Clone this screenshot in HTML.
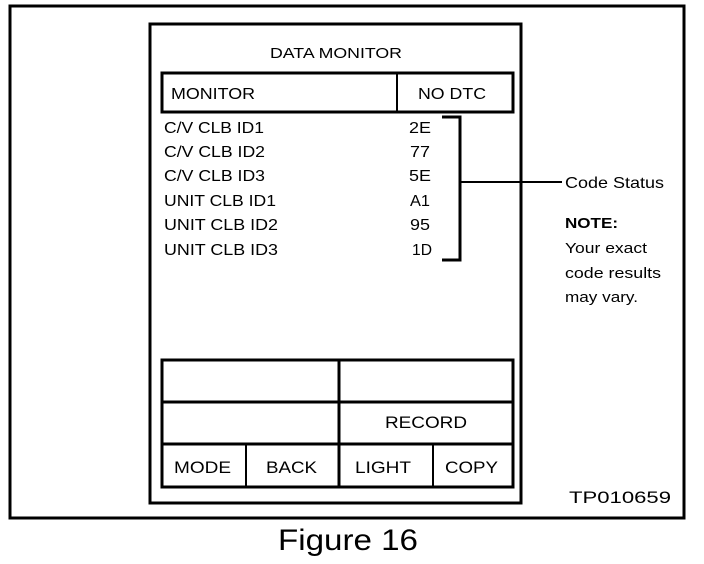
<!DOCTYPE html>
<html><head><style>
html,body{margin:0;padding:0;background:#fff;}
svg{display:block;}
text{font-family:"Liberation Sans",Arial,sans-serif;fill:#000;}
</style></head><body>
<svg width="704" height="564" viewBox="0 0 704 564" xmlns="http://www.w3.org/2000/svg">
<rect x="10" y="6" width="674" height="512" fill="none" stroke="#000" stroke-width="3"/>
<rect x="150" y="24" width="371" height="479" fill="none" stroke="#000" stroke-width="3"/>
<text x="270" y="58" font-size="15" textLength="132" lengthAdjust="spacingAndGlyphs">DATA MONITOR</text>
<rect x="162" y="73" width="351" height="39" fill="none" stroke="#000" stroke-width="3"/>
<line x1="397" y1="73" x2="397" y2="112" stroke="#000" stroke-width="2"/>
<text x="171" y="99" font-size="16" textLength="84" lengthAdjust="spacingAndGlyphs">MONITOR</text>
<text x="418" y="99" font-size="16" textLength="68" lengthAdjust="spacingAndGlyphs">NO DTC</text>
<g font-size="16">
<text x="164" y="133" textLength="100" lengthAdjust="spacingAndGlyphs">C/V CLB ID1</text><text x="409" y="133" textLength="22" lengthAdjust="spacingAndGlyphs">2E</text>
<text x="164" y="157" textLength="101" lengthAdjust="spacingAndGlyphs">C/V CLB ID2</text><text x="410" y="157" textLength="20" lengthAdjust="spacingAndGlyphs">77</text>
<text x="164" y="181" textLength="101" lengthAdjust="spacingAndGlyphs">C/V CLB ID3</text><text x="409" y="181" textLength="22" lengthAdjust="spacingAndGlyphs">5E</text>
<text x="164" y="206" textLength="112" lengthAdjust="spacingAndGlyphs">UNIT CLB ID1</text><text x="410" y="206" textLength="20" lengthAdjust="spacingAndGlyphs">A1</text>
<text x="164" y="230" textLength="114" lengthAdjust="spacingAndGlyphs">UNIT CLB ID2</text><text x="410" y="230" textLength="20" lengthAdjust="spacingAndGlyphs">95</text>
<text x="164" y="255" textLength="114" lengthAdjust="spacingAndGlyphs">UNIT CLB ID3</text><text x="412" y="255" textLength="20" lengthAdjust="spacingAndGlyphs">1D</text>
</g>
<polyline points="442,117 460,117 460,260 442,260" fill="none" stroke="#000" stroke-width="3"/>
<line x1="460" y1="182" x2="562" y2="182" stroke="#000" stroke-width="2"/>
<text x="565" y="188" font-size="16" textLength="99" lengthAdjust="spacingAndGlyphs">Code Status</text>
<text x="565" y="228" font-size="15" font-weight="bold" textLength="53" lengthAdjust="spacingAndGlyphs">NOTE:</text>
<text x="565" y="253" font-size="15" textLength="82" lengthAdjust="spacingAndGlyphs">Your exact</text>
<text x="565" y="278" font-size="15" textLength="96" lengthAdjust="spacingAndGlyphs">code results</text>
<text x="565" y="302" font-size="15" textLength="73" lengthAdjust="spacingAndGlyphs">may vary.</text>
<rect x="162" y="360" width="351" height="127" fill="none" stroke="#000" stroke-width="3"/>
<line x1="339" y1="360" x2="339" y2="487" stroke="#000" stroke-width="3"/>
<line x1="162" y1="402" x2="513" y2="402" stroke="#000" stroke-width="3"/>
<line x1="162" y1="444" x2="513" y2="444" stroke="#000" stroke-width="3"/>
<line x1="246" y1="444" x2="246" y2="487" stroke="#000" stroke-width="2"/>
<line x1="433" y1="444" x2="433" y2="487" stroke="#000" stroke-width="2"/>
<g font-size="17">
<text x="385" y="428" textLength="82" lengthAdjust="spacingAndGlyphs">RECORD</text>
<text x="174" y="473" textLength="57" lengthAdjust="spacingAndGlyphs">MODE</text>
<text x="266" y="473" textLength="51" lengthAdjust="spacingAndGlyphs">BACK</text>
<text x="355" y="473" textLength="56" lengthAdjust="spacingAndGlyphs">LIGHT</text>
<text x="445" y="473" textLength="53" lengthAdjust="spacingAndGlyphs">COPY</text>
</g>
<text x="569" y="503" font-size="17" textLength="102" lengthAdjust="spacingAndGlyphs">TP010659</text>
<text x="278" y="550" font-size="30" textLength="140" lengthAdjust="spacingAndGlyphs">Figure 16</text>
</svg>
</body></html>
